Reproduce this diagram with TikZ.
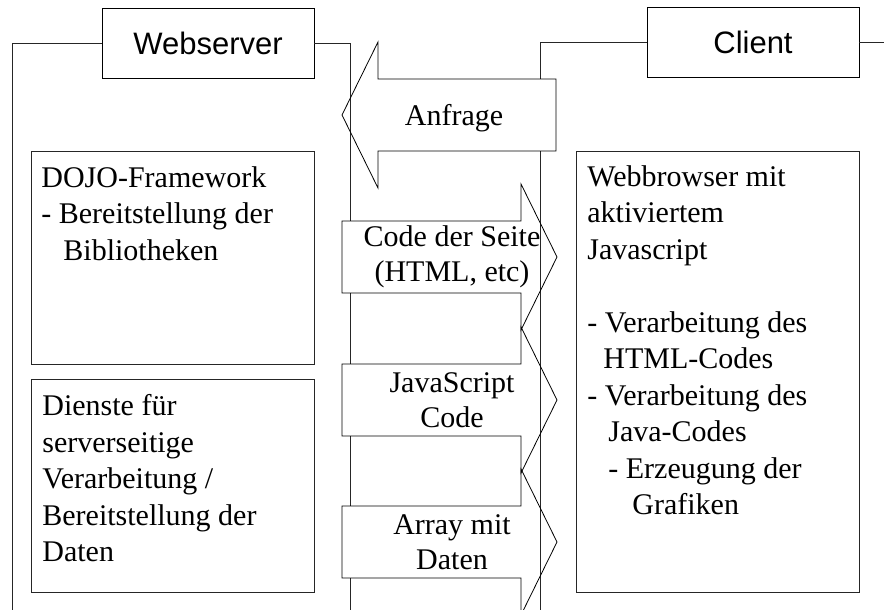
\documentclass[tikz,border=0pt]{standalone}
\usepackage{fontspec}
\setmainfont{Liberation Serif}
\newfontfamily\headfont{Liberation Sans}
\usetikzlibrary{positioning}

\begin{document}
\begin{tikzpicture}[
  x=1pt, y=-1pt,
  line width=0.8pt,
  headbox/.style={rectangle, draw=black, fill=white, minimum width=212pt, minimum height=70pt, inner sep=0pt, font=\headfont\fontsize{31}{36}\selectfont},
  partbox/.style={rectangle, draw=black!85, minimum width=283pt, inner sep=0pt, anchor=north west},
  boxtext/.style={anchor=north west, align=left, inner sep=0pt, font=\fontsize{30}{36.5}\selectfont},
  flowtext/.style={align=center, inner sep=0pt, font=\fontsize{30}{34.5}\selectfont},
  frame/.style={draw=black!85},
  blockarrow/.style={draw=black, line join=miter}
]
\clip (0,0) rectangle (884,610);

% Headers and frames
\node (web) [headbox] at (208,43) {Webserver};
\node (client) [headbox] at (753,42.5) {Client};
\coordinate (webleft) at (12,610);
\coordinate (webright) at (350,610);
\coordinate (clientleft) at (540,610);
\coordinate (clientright) at (884,42.5);
\draw [frame] (webleft) |- (web.west);
\draw [frame] (web.east) -| (webright);
\draw [frame] (clientleft) |- (client.west);
\draw [frame] (client.east) -- (clientright);

% Server side
\node (dojo) [partbox, minimum height=213pt] at (31,151) {};
\node (dienste) [partbox, minimum height=213pt] at (31,379) {};
\node (dojotext) [boxtext] at ([xshift=10pt, yshift=-15pt]dojo.north west)
  {DOJO-Framework\\- Bereitstellung der\\\hspace{22pt}Bibliotheken};
\node (diensttext) [boxtext] at ([xshift=11pt, yshift=-15pt]dienste.north west)
  {Dienste f\"ur\\serverseitige\\Verarbeitung /\\Bereitstellung der\\Daten};

% Client side
\node (browser) [partbox, minimum height=441pt] at (576,151) {};
\node (browsertext) [boxtext] at ([xshift=11pt, yshift=-14pt]browser.north west)
  {Webbrowser mit\\aktiviertem\\Javascript\\[36.5pt]- Verarbeitung des\\\hspace{16pt}HTML-Codes\\- Verarbeitung des\\\hspace{21pt}Java-Codes\\\hspace{21pt}- Erzeugung der\\\hspace{45pt}Grafiken};

% Request arrow
\fill [white] (378,79) rectangle (556,151);
\draw [blockarrow] (556,79) -- (378,79) -- (378,42) -- (342,115) -- (378,188) -- (378,151) -- (556,151) -- cycle;
\node (anfrage) [flowtext] at (454,118) {Anfrage};

% Response arrows
\foreach \cy/\nm/\txt in {257/seite/{Code der Seite\\(HTML, etc)}, 400/script/{JavaScript\\Code}, 542/daten/{Array mit\\Daten}} {
  \fill [white] (342,\cy-36) rectangle (521,\cy+36);
  \draw [blockarrow] (342,\cy-36) -- (521,\cy-36) -- (521,\cy-73) -- (557,\cy) -- (521,\cy+73) -- (521,\cy+36) -- (342,\cy+36) -- cycle;
  \node (\nm) [flowtext] at (452,\cy) {\txt};
}
\end{tikzpicture}
\end{document}
